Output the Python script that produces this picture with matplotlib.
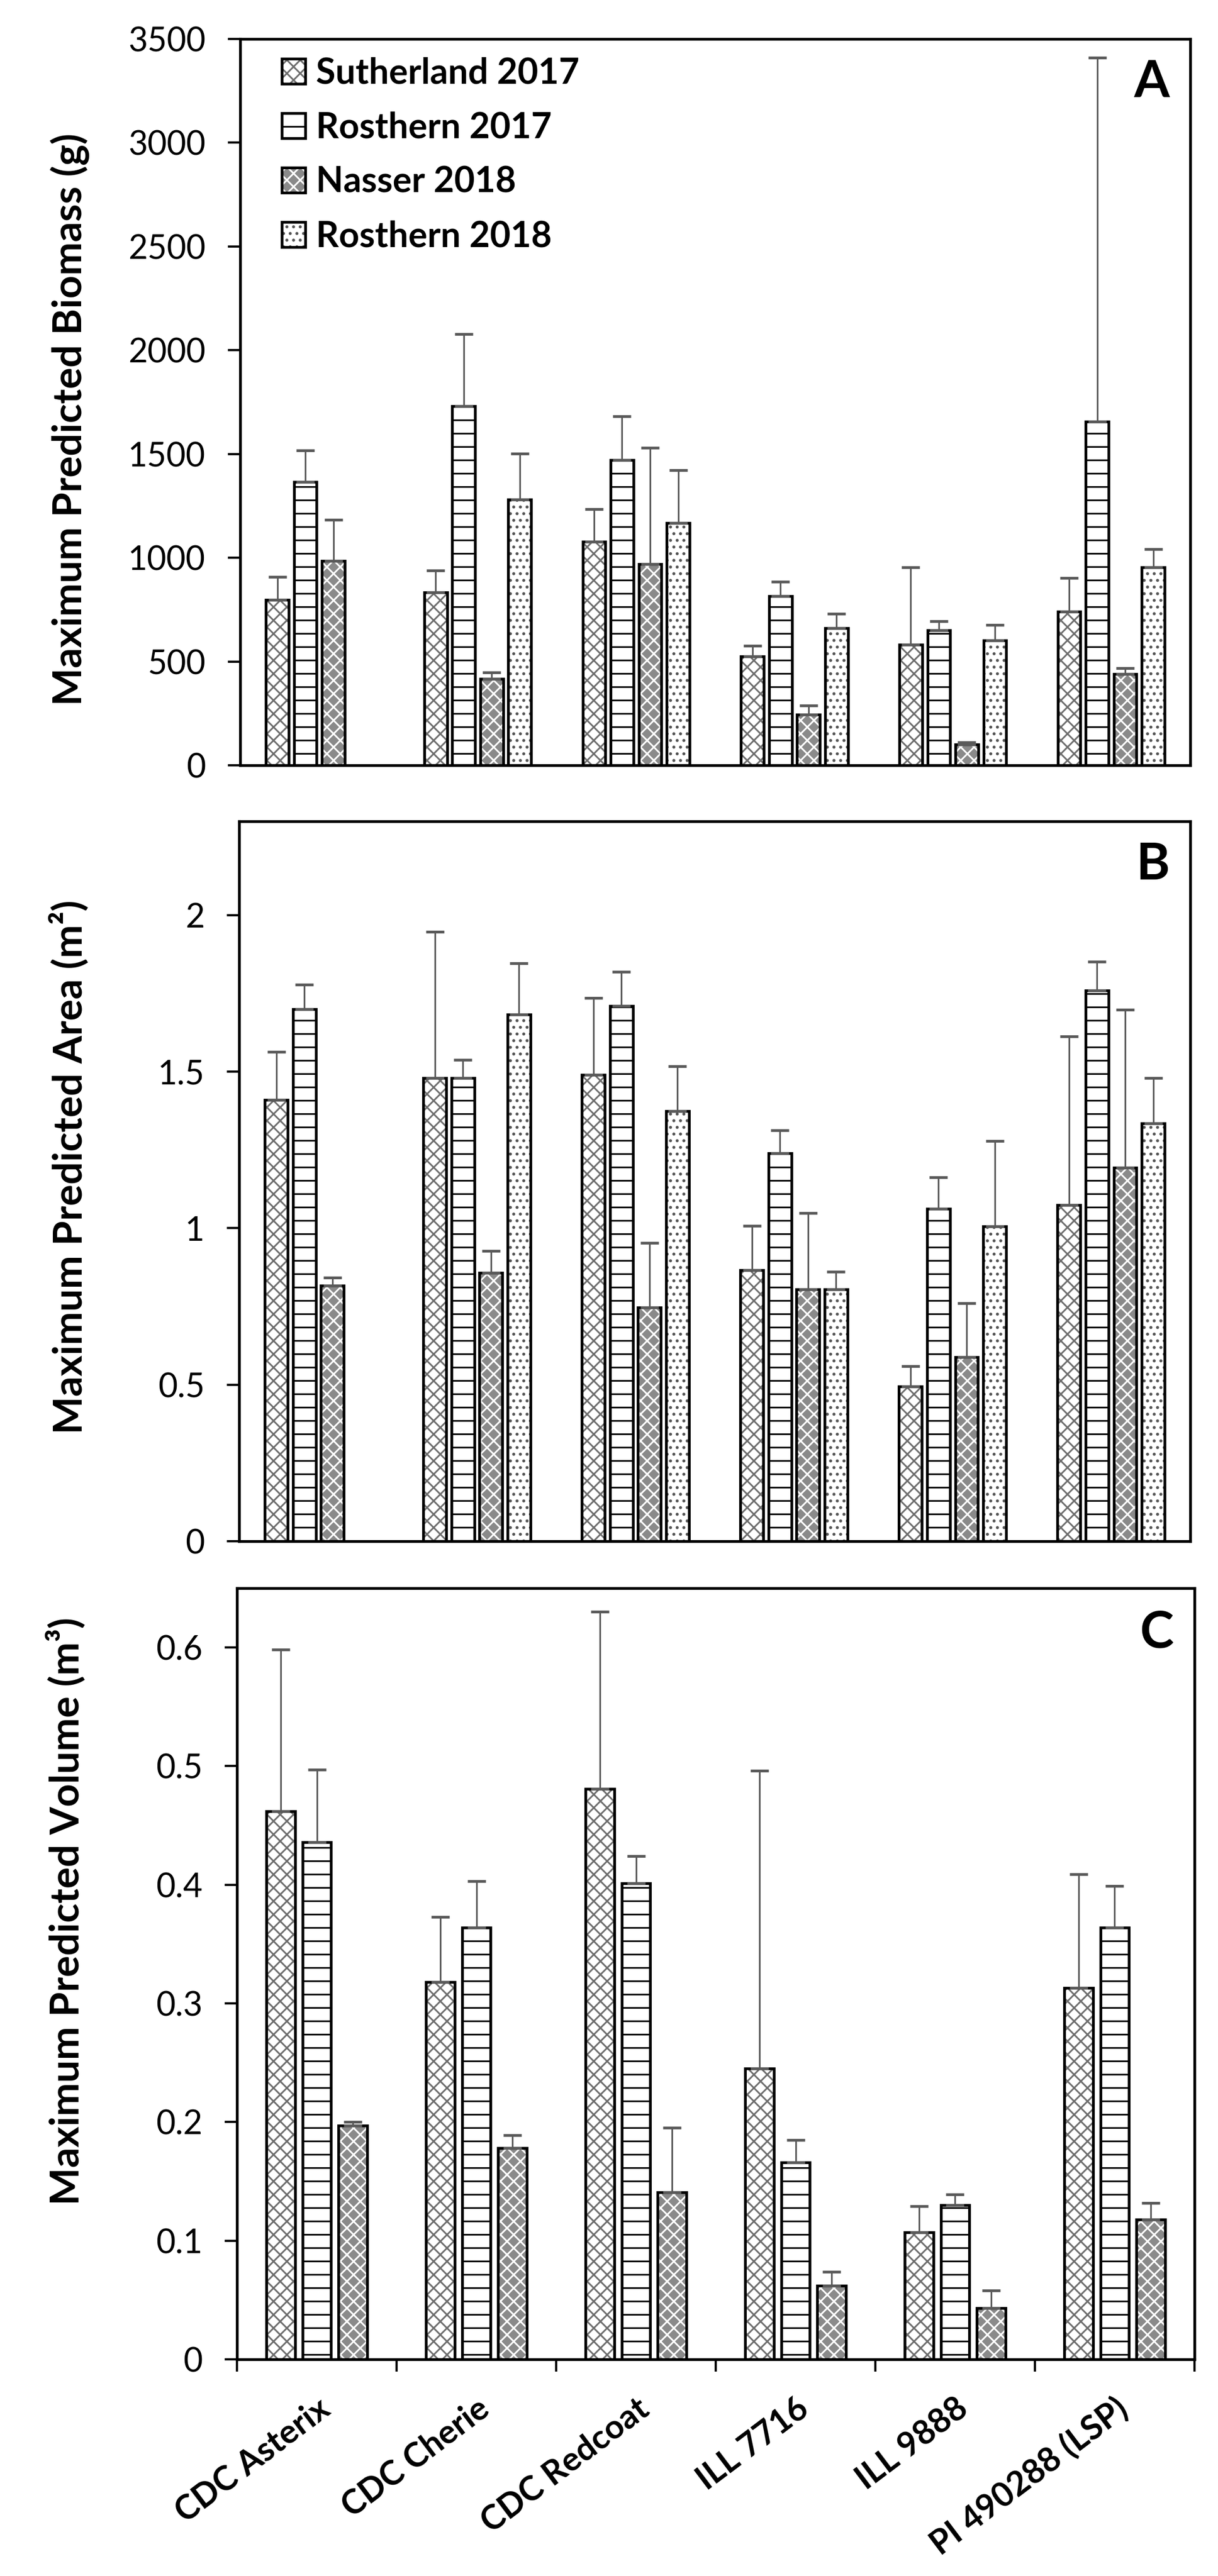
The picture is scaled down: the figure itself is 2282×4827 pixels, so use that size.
import numpy as np
import matplotlib
matplotlib.use('Agg')
import matplotlib.pyplot as plt
from matplotlib.patches import Patch
from matplotlib.ticker import FuncFormatter, MultipleLocator

plt.rcParams['font.family'] = ['Lato', 'DejaVu Sans']
plt.rcParams['hatch.linewidth'] = 1.5

nan = np.nan

categories = ['CDC Asterix', 'CDC Cherie', 'CDC Redcoat', 'ILL 7716', 'ILL 9888', 'PI 490288 (LSP)']
series = ['Sutherland 2017', 'Rosthern 2017', 'Nasser 2018', 'Rosthern 2018']

# A - biomass (g)
biomass_suth = [798, 834, 1078, 524, 582, 740]
biomass_suth_err = [110, 104, 156, 51, 372, 163]
biomass_ros17 = [1366, 1731, 1471, 816, 651, 1655]
biomass_ros17_err = [151, 347, 212, 69, 43, 1754]
biomass_nas = [984, 418, 970, 244, 101, 439]
biomass_nas_err = [198, 30, 561, 43, 9, 30]
biomass_ros18 = [nan, 1280, 1168, 662, 602, 954]
biomass_ros18_err = [nan, 221, 253, 69, 74, 87]

# B - area (m2)
area_suth = [1.41, 1.48, 1.49, 0.866, 0.495, 1.074]
area_suth_err = [0.154, 0.467, 0.245, 0.142, 0.064, 0.539]
area_ros17 = [1.70, 1.48, 1.71, 1.239, 1.062, 1.76]
area_ros17_err = [0.078, 0.057, 0.109, 0.073, 0.101, 0.091]
area_nas = [0.817, 0.858, 0.747, 0.804, 0.588, 1.193]
area_nas_err = [0.025, 0.07, 0.206, 0.245, 0.172, 0.505]
area_ros18 = [nan, 1.683, 1.374, 0.804, 1.005, 1.335]
area_ros18_err = [nan, 0.163, 0.144, 0.057, 0.274, 0.144]

# C - volume (m3)
volume_suth = [0.462, 0.318, 0.481, 0.245, 0.107, 0.313]
volume_suth_err = [0.136, 0.055, 0.149, 0.251, 0.022, 0.096]
volume_ros17 = [0.436, 0.364, 0.401, 0.166, 0.130, 0.364]
volume_ros17_err = [0.061, 0.039, 0.023, 0.019, 0.009, 0.035]
volume_nas = [0.197, 0.178, 0.141, 0.062, 0.043, 0.118]
volume_nas_err = [0.003, 0.011, 0.054, 0.012, 0.015, 0.014]

# face colour, hatch colour, hatch
styles = {
    'Sutherland 2017': ('white', '#6e6e6e', 'xx'),
    'Rosthern 2017': ('white', 'black', '-'),
    'Nasser 2018': ('#8a8a8a', 'white', 'xx'),
    'Rosthern 2018': ('white', '#555555', '..'),
}

DPI = 150
fig = plt.figure(figsize=(2282 / DPI, 4827 / DPI), dpi=DPI)

ax_a = fig.add_axes([0.1972, 0.7029, 0.7801, 0.2820])
ax_b = fig.add_axes([0.1963, 0.4017, 0.7810, 0.2795])
ax_c = fig.add_axes([0.1946, 0.0841, 0.7861, 0.2994])

x = np.arange(len(categories))


def draw_bars(ax, xpos, heights, errs, width, name):
    face, hcol, hatch = styles[name]
    ax.bar(xpos, heights, width, color=face, edgecolor=hcol, hatch=hatch, linewidth=0, zorder=2)
    ax.bar(xpos, heights, width, fill=False, edgecolor='black', linewidth=2.5, zorder=3)
    lower = np.zeros(len(heights))
    ax.errorbar(xpos, heights, yerr=[lower, errs], fmt='none', ecolor='#5a5a5a',
                elinewidth=1.5, capsize=8, capthick=2.5, zorder=4)


def style_axis(ax, ymax, step, label, letter, label_y):
    ax.set_xlim(-0.5, len(categories) - 0.5)
    ax.set_ylim(0, ymax)
    ax.yaxis.set_major_locator(MultipleLocator(step))
    ax.yaxis.set_major_formatter(FuncFormatter(lambda v, p: '{:g}'.format(round(v, 3))))
    for sp in ax.spines.values():
        sp.set_linewidth(2.5)
    ax.tick_params(axis='y', direction='out', length=11, width=2, pad=20, labelsize=30)
    ax.set_ylabel(label, fontsize=36, fontweight='bold')
    ax.yaxis.label.set_verticalalignment('center')
    ax.yaxis.set_label_coords(-0.179, label_y)
    ax.text(0.978, 0.972, letter, transform=ax.transAxes, ha='right', va='top',
            fontsize=46, fontweight='bold')


# panels A and B: four slots per cultivar
w4 = 0.144
p4 = 0.177
offs4 = (np.arange(4) - 1.5) * p4

data_a = [(biomass_suth, biomass_suth_err), (biomass_ros17, biomass_ros17_err),
          (biomass_nas, biomass_nas_err), (biomass_ros18, biomass_ros18_err)]
for i, (vals, errs) in enumerate(data_a):
    draw_bars(ax_a, x + offs4[i], vals, errs, w4, series[i])
style_axis(ax_a, 3500, 500, 'Maximum Predicted Biomass (g)', 'A', 0.476)

data_b = [(area_suth, area_suth_err), (area_ros17, area_ros17_err),
          (area_nas, area_nas_err), (area_ros18, area_ros18_err)]
for i, (vals, errs) in enumerate(data_b):
    draw_bars(ax_b, x + offs4[i], vals, errs, w4, series[i])
style_axis(ax_b, 2.3, 0.5, 'Maximum Predicted Area (m²)', 'B', 0.52)

# panel C: three series only
w3 = 0.18
p3 = 0.226
offs3 = (np.arange(3) - 1) * p3
data_c = [(volume_suth, volume_suth_err), (volume_ros17, volume_ros17_err),
          (volume_nas, volume_nas_err)]
for i, (vals, errs) in enumerate(data_c):
    draw_bars(ax_c, x + offs3[i], vals, errs, w3, series[i])
style_axis(ax_c, 0.65, 0.1, 'Maximum Predicted Volume (m³)', 'C', 0.581)

for ax in (ax_a, ax_b):
    ax.set_xticks([])

ax_c.set_xticks(x)
ax_c.set_xticklabels(categories, rotation=37, ha='right', rotation_mode='anchor',
                     fontsize=30, fontweight='bold')
ax_c.set_xticks(np.arange(len(categories) + 1) - 0.5, minor=True)
ax_c.tick_params(axis='x', which='major', length=0, pad=30)
ax_c.tick_params(axis='x', which='minor', direction='out', length=11, width=2)

# legend in panel A
handles = []
for name in series:
    face, hcol, hatch = styles[name]
    fill_p = Patch(facecolor=face, edgecolor=hcol, hatch=hatch, linewidth=0)
    edge_p = Patch(facecolor='none', edgecolor='black', linewidth=2.5)
    handles.append((fill_p, edge_p))
ax_a.legend(handles, series, loc='upper left', bbox_to_anchor=(0.044, 0.975),
            frameon=False, borderpad=0, borderaxespad=0, labelspacing=0.6,
            handlelength=0.65, handleheight=0.7, handletextpad=0.3,
            prop={'size': 32, 'weight': 'bold'})

fig.savefig('out.png', dpi=DPI)
